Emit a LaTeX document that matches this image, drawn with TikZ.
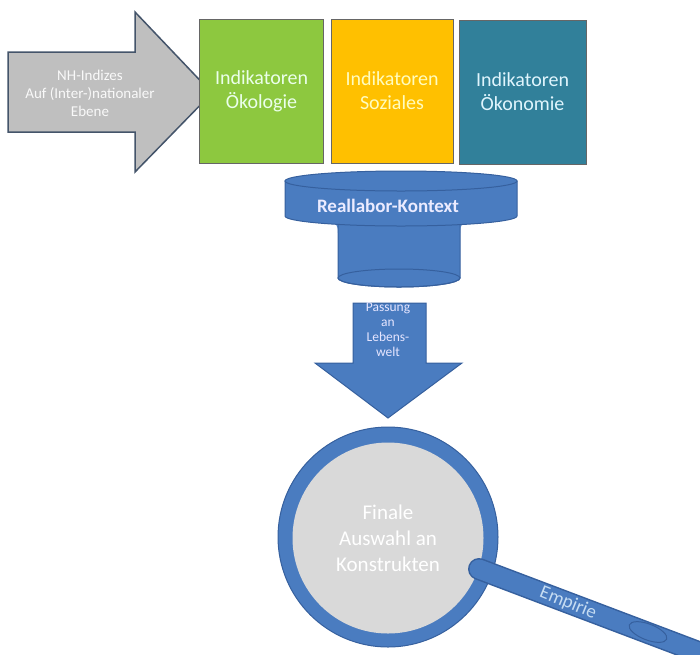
\documentclass[tikz,border=0pt]{standalone}
\usepackage{fontspec}
\setmainfont{Carlito}
\definecolor{bluefill}{HTML}{4A7CC0}
\definecolor{blueedge}{HTML}{36609E}
\definecolor{grayfill}{HTML}{BFBFBF}
\definecolor{grayedge}{HTML}{44546A}
\definecolor{greenfill}{HTML}{8DC83F}
\definecolor{orangefill}{HTML}{FFC000}
\definecolor{tealfill}{HTML}{31809A}
\definecolor{circgray}{HTML}{D9D9D9}
\definecolor{empirie}{HTML}{C5DCF2}
\tikzset{
  indbox/.style={draw=black!60, line width=1pt, minimum width=124pt, minimum height=144pt, inner sep=0pt, align=center, font=\fontsize{20}{24}\selectfont},
  blueshape/.style={fill=bluefill, draw=blueedge, line width=1pt},
}
\begin{document}
\begin{tikzpicture}[x=1pt,y=-1pt]
\useasboundingbox (0,0) rectangle (700,654);
% gray arrow
\draw[fill=grayfill, draw=grayedge, line width=1.5pt, line join=miter]
  (8,52) -- (135,52) -- (135,12) -- (212,93) -- (135,172) -- (135,132) -- (8,132) -- cycle;
\node[align=center, text=white!95!gray, font=\fontsize{15}{18}\selectfont] (nh) at (90,93) {NH-Indizes\\Auf (Inter-)nationaler\\Ebene};
% boxes
\node[indbox, fill=greenfill, text=green!8!white] (oek) at (261.5,91) {Indikatoren\\Ökologie};
\node[indbox, fill=orangefill, text=yellow!25!white, minimum width=122pt] (soz) at (392,91) {Indikatoren\\Soziales};
\node[indbox, fill=tealfill, text=cyan!12!white, minimum width=127pt] (oko) at (522.5,92) {Indikatoren\\Ökonomie};
% funnel neck
\path[blueshape] (338,220) -- (338,278) arc[start angle=180,end angle=360,x radius=61pt,y radius=9pt] -- (460,220) -- cycle;
\draw[blueedge, line width=1pt] (399,278) ellipse [x radius=61pt, y radius=9pt];
% shoulders
\fill[bluefill] (326,219) .. controls (336,221) and (338,225) .. (338,233) -- (338,219) -- cycle;
\fill[bluefill] (472,219) .. controls (462,221) and (460,225) .. (460,233) -- (460,219) -- cycle;
% funnel disk
\path[blueshape] (285,181) -- (285,216) arc[start angle=180,end angle=360,x radius=116pt,y radius=10pt] -- (517,181) -- cycle;
\draw[blueshape] (401,181) ellipse [x radius=116pt, y radius=10pt];
\node[text=white!92!blue, font=\bfseries\fontsize{19}{22}\selectfont] (real) at (388,206) {Reallabor-Kontext};
% down arrow
\draw[blueshape, line join=miter] (353,303) -- (426,303) -- (426,363) -- (462,363) -- (388,418) -- (315,363) -- (353,363) -- cycle;
\node[align=center, text=white!90!blue, font=\fontsize{13.5}{15}\selectfont] (pass) at (388,330) {Passung\\an\\Lebens-\\welt};
% circle
\node[circle, minimum size=220pt, fill=bluefill, draw=blueedge, line width=1pt] (ring) at (388,537) {};
\node[circle, minimum size=191pt, fill=circgray, inner sep=0pt, align=center, text=white, font=\fontsize{21}{26}\selectfont] (fin) at (388,538) {Finale\\Auswahl an\\Konstrukten};
% handle
\coordinate (h1) at (479,569);
\coordinate (h2) at (730,664);
\draw[blueedge, line width=22pt, line cap=round] (h1) -- (h2);
\draw[bluefill, line width=19pt, line cap=round] (h1) -- (h2);
\draw[blueedge, line width=1pt, rotate around={-21:(648,632)}] (648,632) ellipse [x radius=20pt, y radius=8pt];
\node[text=empirie, rotate=-22, inner sep=0pt, font=\fontsize{19}{22}\selectfont] (emp) at (568,603) {Empirie};
\end{tikzpicture}
\end{document}
